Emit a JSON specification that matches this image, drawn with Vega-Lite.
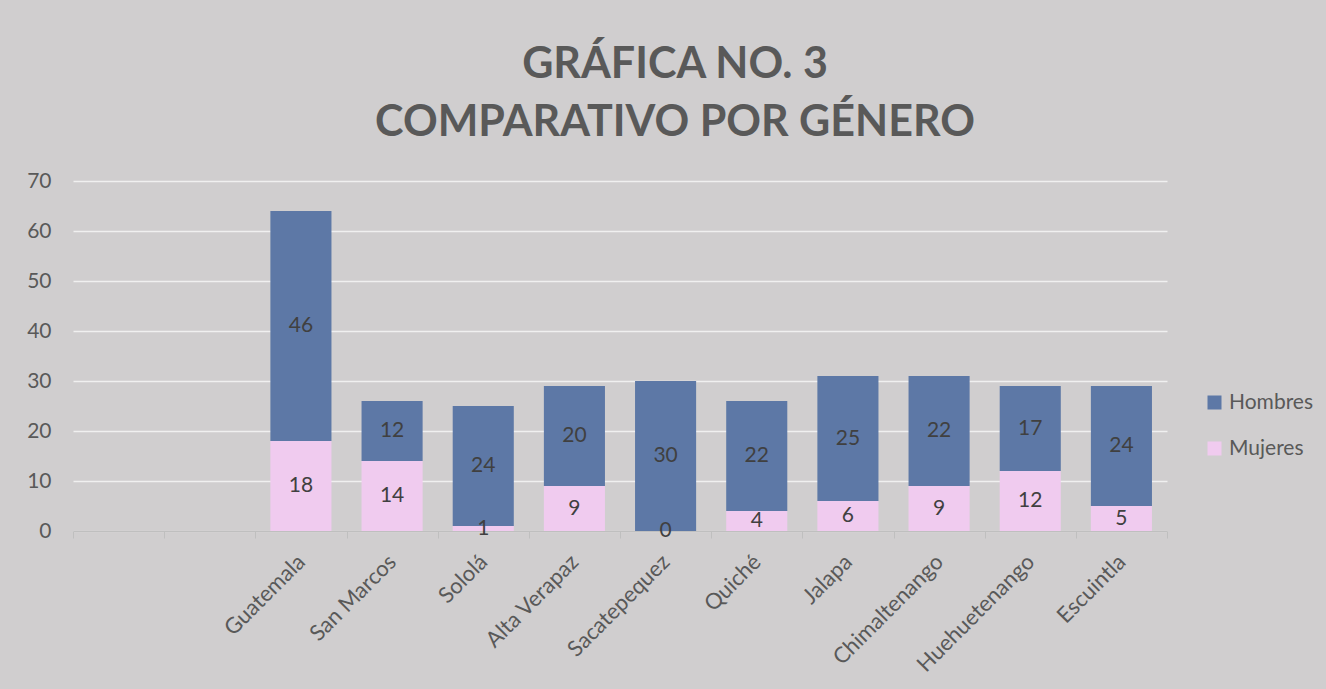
{
  "$schema": "https://vega.github.io/schema/vega-lite/v6.json",
  "width": 1094,
  "height": 350,
  "autosize": {"type": "none"},
  "padding": {"left": 73, "top": 181, "right": 159, "bottom": 158},
  "background": "#d0cecf",
  "config": {
    "font": "Lato",
    "view": {"stroke": null},
    "axis": {"labelFont": "Lato", "labelColor": "#595959", "labelFontSize": 21},
    "legend": {"labelFont": "Lato", "labelColor": "#595959", "labelFontSize": 21}
  },
  "title": {
    "text": ["GRÁFICA NO. 3", "COMPARATIVO POR GÉNERO"],
    "font": "Lato",
    "fontSize": 43,
    "fontWeight": "bold",
    "color": "#595959",
    "lineHeight": 58,
    "anchor": "middle",
    "frame": "group",
    "dx": 55,
    "offset": 25
  },
  "data": {
    "values": [
      {"depto": "Guatemala", "genero": "Hombres", "n": 46},
      {"depto": "Guatemala", "genero": "Mujeres", "n": 18},
      {"depto": "San Marcos", "genero": "Hombres", "n": 12},
      {"depto": "San Marcos", "genero": "Mujeres", "n": 14},
      {"depto": "Sololá", "genero": "Hombres", "n": 24},
      {"depto": "Sololá", "genero": "Mujeres", "n": 1},
      {"depto": "Alta Verapaz", "genero": "Hombres", "n": 20},
      {"depto": "Alta Verapaz", "genero": "Mujeres", "n": 9},
      {"depto": "Sacatepequez", "genero": "Hombres", "n": 30},
      {"depto": "Sacatepequez", "genero": "Mujeres", "n": 0},
      {"depto": "Quiché", "genero": "Hombres", "n": 22},
      {"depto": "Quiché", "genero": "Mujeres", "n": 4},
      {"depto": "Jalapa", "genero": "Hombres", "n": 25},
      {"depto": "Jalapa", "genero": "Mujeres", "n": 6},
      {"depto": "Chimaltenango", "genero": "Hombres", "n": 22},
      {"depto": "Chimaltenango", "genero": "Mujeres", "n": 9},
      {"depto": "Huehuetenango", "genero": "Hombres", "n": 17},
      {"depto": "Huehuetenango", "genero": "Mujeres", "n": 12},
      {"depto": "Escuintla", "genero": "Hombres", "n": 24},
      {"depto": "Escuintla", "genero": "Mujeres", "n": 5}
    ]
  },
  "transform": [
    {"stack": "n", "groupby": ["depto"], "sort": [{"field": "genero", "order": "descending"}], "as": ["y0", "y1"]}
  ],
  "encoding": {
    "x": {
      "field": "depto",
      "type": "nominal",
      "sort": null,
      "scale": {
        "domain": [" ", "  ", "Guatemala", "San Marcos", "Sololá", "Alta Verapaz", "Sacatepequez", "Quiché", "Jalapa", "Chimaltenango", "Huehuetenango", "Escuintla"],
        "paddingInner": 0,
        "paddingOuter": 0
      },
      "axis": {
        "title": null,
        "labelAngle": -45,
        "labelAlign": "right",
        "labelBaseline": "middle",
        "labelPadding": 20,
        "labelFontSize": 22,
        "tickBand": "extent",
        "tickSize": 7,
        "tickColor": "#bfbfbf",
        "domainColor": "#bfbfbf",
        "domainWidth": 1.5,
        "grid": false
      }
    }
  },
  "layer": [
    {
      "mark": {"type": "bar", "width": {"band": 0.67}},
      "encoding": {
        "y": {
          "field": "y1",
          "type": "quantitative",
          "scale": {"domain": [0, 70]},
          "axis": {
            "title": null,
            "values": [0, 10, 20, 30, 40, 50, 60, 70],
            "domain": false,
            "ticks": false,
            "labelPadding": 22,
            "gridColor": "#f0f0f0",
            "gridWidth": 1.5
          }
        },
        "y2": {"field": "y0"},
        "color": {
          "field": "genero",
          "type": "nominal",
          "scale": {"domain": ["Hombres", "Mujeres"], "range": ["#5d78a6", "#f0cbef"]},
          "legend": {
            "title": null,
            "orient": "none",
            "legendX": 1131,
            "legendY": 211,
            "padding": 0,
            "symbolType": "square",
            "symbolSize": 196,
            "symbolStrokeWidth": 0,
            "labelOffset": 4,
            "rowPadding": 24
          }
        }
      }
    },
    {
      "transform": [
        {"fold": ["y0", "y1"], "as": ["k", "v"]},
        {"aggregate": [{"op": "sum", "field": "v", "as": "s"}], "groupby": ["depto", "genero", "n"]}
      ],
      "mark": {"type": "text", "fontSize": 21, "color": "#404040", "font": "Lato"},
      "encoding": {
        "y": {"field": "s", "type": "quantitative", "scale": {"domain": [0, 140]}, "axis": null},
        "text": {"field": "n", "type": "quantitative"}
      }
    }
  ],
  "resolve": {"scale": {"y": "independent"}}
}
